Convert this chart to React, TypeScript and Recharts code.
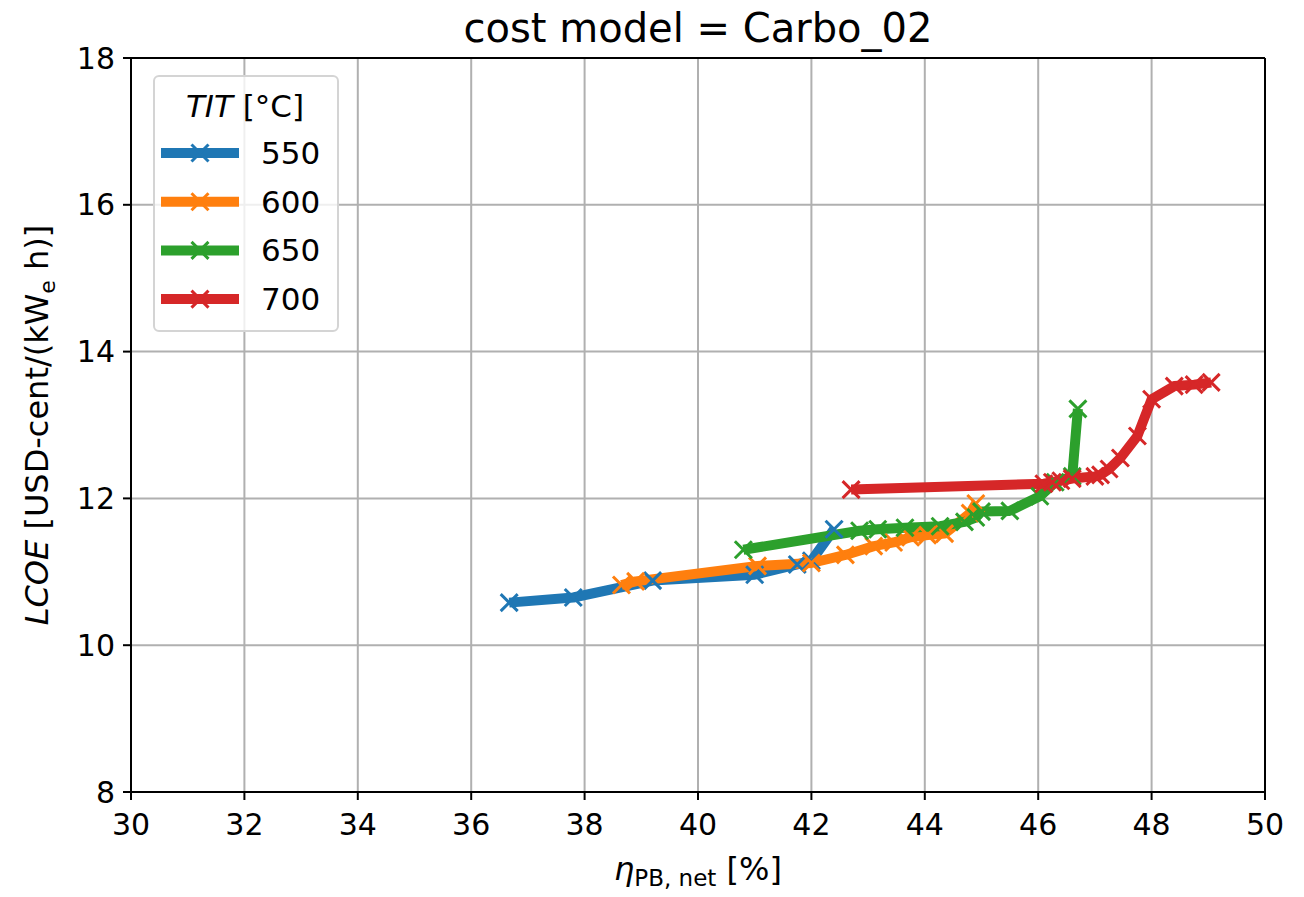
import React from "react";
import {
  CartesianGrid,
  Line,
  LineChart,
  ReferenceLine,
  XAxis,
  YAxis,
} from "recharts";

type Pt = { x: number; y: number };

const xTicks = [30, 32, 34, 36, 38, 40, 42, 44, 46, 48, 50];
const yTicks = [8, 10, 12, 14, 16, 18];

const tit550: Pt[] = [
  { x: 36.67, y: 10.58 },
  { x: 37.8, y: 10.65 },
  { x: 39.2, y: 10.88 },
  { x: 41.0, y: 10.96 },
  { x: 41.75, y: 11.1 },
  { x: 42.0, y: 11.15 },
  { x: 42.4, y: 11.58 },
];

const tit600: Pt[] = [
  { x: 38.65, y: 10.82 },
  { x: 38.9, y: 10.87 },
  { x: 41.05, y: 11.08 },
  { x: 42.0, y: 11.12 },
  { x: 42.6, y: 11.23 },
  { x: 43.1, y: 11.35 },
  { x: 43.45, y: 11.4 },
  { x: 43.75, y: 11.47 },
  { x: 44.05, y: 11.5 },
  { x: 44.35, y: 11.52 },
  { x: 44.8, y: 11.8 },
  { x: 44.9, y: 11.93 },
];

const tit650: Pt[] = [
  { x: 40.8, y: 11.3 },
  { x: 42.85, y: 11.56 },
  { x: 43.17, y: 11.58 },
  { x: 43.65, y: 11.6 },
  { x: 44.27, y: 11.62 },
  { x: 44.7, y: 11.68 },
  { x: 44.9, y: 11.74 },
  { x: 45.0, y: 11.82 },
  { x: 45.5, y: 11.83 },
  { x: 46.03, y: 12.03 },
  { x: 46.3, y: 12.22 },
  { x: 46.6, y: 12.3 },
  { x: 46.7, y: 13.22 },
];

const tit700: Pt[] = [
  { x: 42.7, y: 12.12 },
  { x: 46.1, y: 12.2 },
  { x: 46.25, y: 12.22 },
  { x: 46.4, y: 12.24 },
  { x: 46.6, y: 12.27 },
  { x: 47.0, y: 12.3 },
  { x: 47.1, y: 12.32 },
  { x: 47.25, y: 12.4 },
  { x: 47.45, y: 12.55 },
  { x: 47.75, y: 12.85 },
  { x: 48.0, y: 13.35 },
  { x: 48.4, y: 13.53 },
  { x: 48.75, y: 13.55 },
  { x: 49.05, y: 13.58 },
];

const series = [
  { name: "550", data: tit550, color: "#1f77b4" },
  { name: "600", data: tit600, color: "#ff7f0e" },
  { name: "650", data: tit650, color: "#2ca02c" },
  { name: "700", data: tit700, color: "#d62728" },
];

const font = "'DejaVu Sans', sans-serif";
const MS = 8.5;

function crossDot(color: string) {
  return (props: any) => {
    const { cx, cy, index } = props;
    if (cx == null || cy == null) return <g key={index} />;
    return (
      <path
        key={index}
        d={`M${cx - MS},${cy - MS}L${cx + MS},${cy + MS}M${cx - MS},${cy + MS}L${cx + MS},${cy - MS}`}
        stroke={color}
        strokeWidth={3}
        fill="none"
      />
    );
  };
}

function LegendBox() {
  return (
    <div
      style={{
        position: "absolute",
        left: 153,
        top: 75,
        width: 186,
        height: 257,
        border: "2px solid #d4d4d4",
        borderRadius: 6,
        background: "rgba(255,255,255,0.8)",
        boxSizing: "border-box",
      }}
    >
      <svg width={186} height={257} style={{ position: "absolute", left: -2, top: -2 }}>
        <text x={92} y={42} textAnchor="middle" fontSize={31} fontFamily={font} fill="#000">
          <tspan fontStyle="italic">TIT</tspan> [°C]
        </text>
        {series.map((s, i) => {
          const y = 78 + i * 48.7;
          return (
            <g key={s.name}>
              <line x1={8} x2={86} y1={y} y2={y} stroke={s.color} strokeWidth={10} />
              <path
                d={`M${47 - MS},${y - MS}L${47 + MS},${y + MS}M${47 - MS},${y + MS}L${47 + MS},${y - MS}`}
                stroke={s.color}
                strokeWidth={3}
              />
              <text x={108} y={y + 11} fontSize={31} fontFamily={font} fill="#000">
                {s.name}
              </text>
            </g>
          );
        })}
      </svg>
    </div>
  );
}

function XLabel(props: any) {
  const vb = props.viewBox || {};
  const cx = vb.x + vb.width / 2;
  return (
    <text x={cx} y={vb.y + 88} textAnchor="middle" fontFamily={font} fontSize={32} fill="#000">
      <tspan fontStyle="italic">η</tspan>
      <tspan fontSize={23} dy={6}>PB, net</tspan>
      <tspan dy={-6}> [%]</tspan>
    </text>
  );
}

function YLabel(props: any) {
  const vb = props.viewBox || {};
  const cy = vb.y + vb.height / 2;
  const x = 48;
  return (
    <text
      x={x}
      y={cy}
      textAnchor="middle"
      fontFamily={font}
      fontSize={32}
      fill="#000"
      transform={`rotate(-90 ${x} ${cy})`}
    >
      <tspan fontStyle="italic">LCOE</tspan>
      <tspan> [USD-cent/(kW</tspan>
      <tspan fontSize={22} dy={7}>e</tspan>
      <tspan dy={-7}> h)]</tspan>
    </text>
  );
}

export default function App() {
  return (
    <div
      style={{
        position: "absolute",
        left: 0,
        top: 0,
        width: 1304,
        height: 897,
        background: "#fff",
        fontFamily: font,
      }}
    >
      <LineChart
        width={1304}
        height={897}
        margin={{ top: 58, right: 39, bottom: 0, left: 0 }}
      >
        <text x={698} y={42} textAnchor="middle" fontFamily={font} fontSize={40} fill="#000">
          cost model = Carbo_02
        </text>
        <CartesianGrid stroke="#b0b0b0" strokeWidth={2} />
        <XAxis
          type="number"
          dataKey="x"
          domain={[30, 50]}
          ticks={xTicks}
          allowDataOverflow
          height={105}
          stroke="#000"
          strokeWidth={2}
          tickSize={8}
          tick={{ fill: "#000", fontSize: 30, fontFamily: font, dy: 12 }}
          label={<XLabel />}
        />
        <YAxis
          type="number"
          dataKey="y"
          domain={[8, 18]}
          ticks={yTicks}
          allowDataOverflow
          width={131}
          stroke="#000"
          strokeWidth={2}
          tickSize={8}
          tick={{ fill: "#000", fontSize: 30, fontFamily: font, dx: -6 }}
          label={<YLabel />}
        />
        <ReferenceLine y={18} stroke="#000" strokeWidth={2} />
        <ReferenceLine x={50} stroke="#000" strokeWidth={2} />
        {series.map((s) => (
          <Line
            key={s.name}
            data={s.data}
            dataKey="y"
            name={s.name}
            type="linear"
            stroke={s.color}
            strokeWidth={10}
            strokeLinejoin="round"
            dot={crossDot(s.color)}
            activeDot={false}
            isAnimationActive={false}
          />
        ))}
      </LineChart>
      <LegendBox />
    </div>
  );
}
